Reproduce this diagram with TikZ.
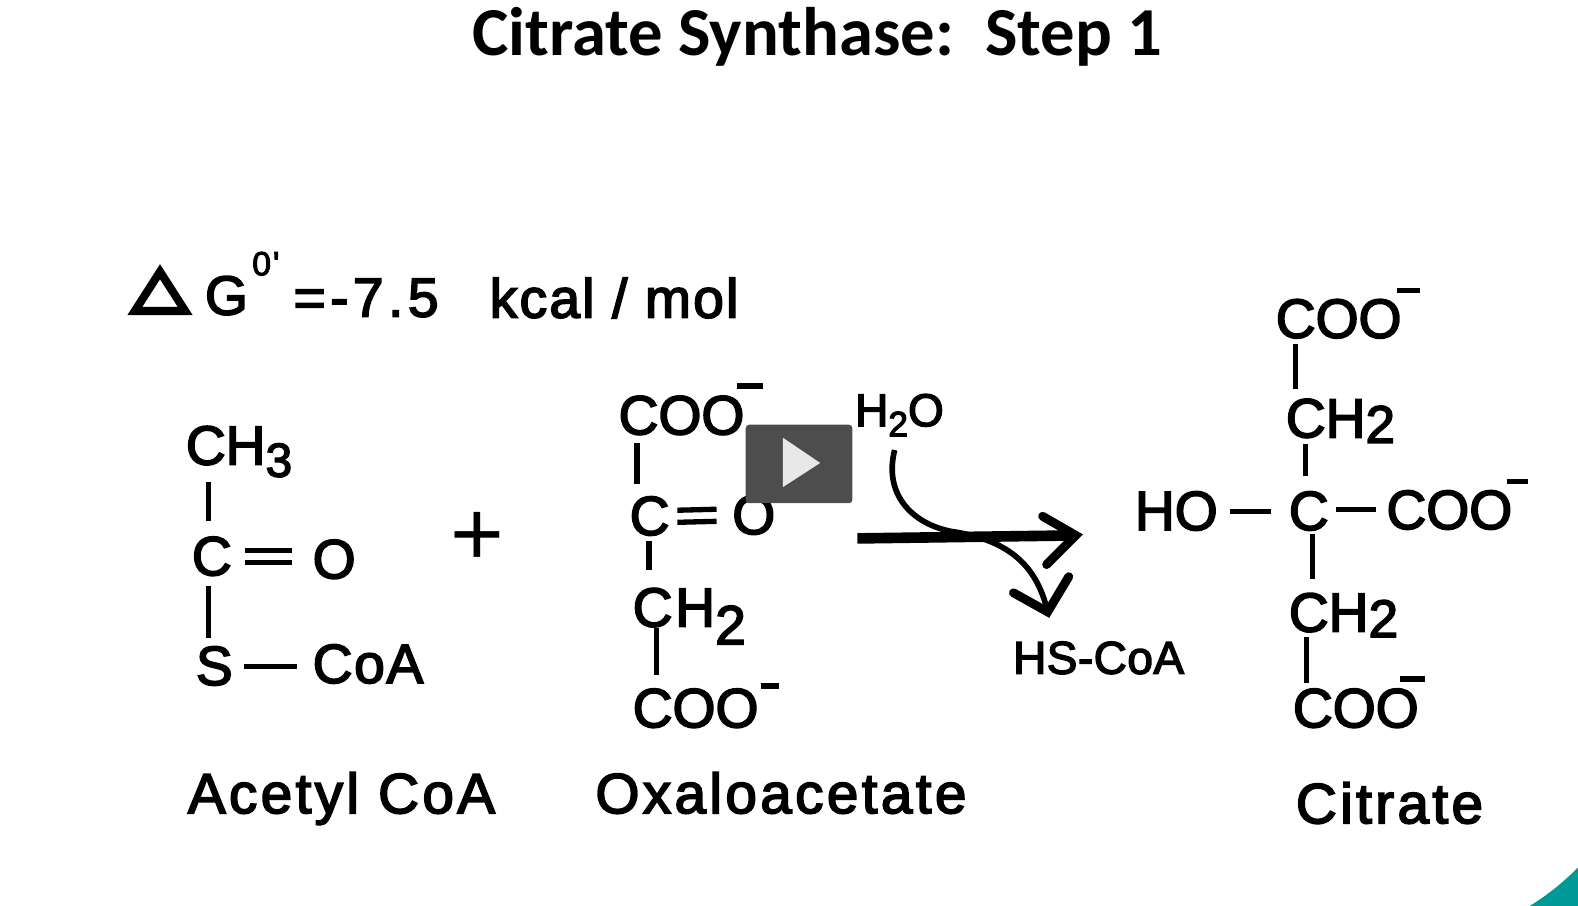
\documentclass[tikz,border=0pt]{standalone}
\usepackage{fontspec}
\usetikzlibrary{calc}
\setmainfont{Liberation Sans}
\newfontfamily\chemfont[FakeBold=3]{Liberation Sans}
\newfontfamily\titlefont{Carlito}[BoldFont=Carlito Bold]
\definecolor{teal1}{HTML}{009A96}
\definecolor{playgray}{HTML}{4D4D4D}
\definecolor{playlight}{HTML}{E8E8E8}
\newcommand{\lowtwo}[1]{\raisebox{-.22em}{\fontsize{13.5}{14}\selectfont #1}}
\newcommand{\lowbig}[1]{\raisebox{-.1em}{\fontsize{15}{16}\selectfont #1}}

\begin{document}
\begin{tikzpicture}[x=0.01cm,y=-0.01cm]
    \tikzset { atom/.style = { anchor=west,inner sep=0pt,text height=10.6pt,text depth=0pt,
        font=\chemfont\fontsize{15.6}{18}\selectfont } }
    \tikzset { small/.style = { atom,text height=8.8pt,font=\chemfont\fontsize{13}{15}\selectfont } }
    \tikzset { caption/.style = { atom,text height=10.8pt,font=\chemfont\fontsize{16}{18}\selectfont\addfontfeature{LetterSpace=6} } }
    \tikzset { bond/.style = { line width=1.5pt,black } }
    \tikzset { charge/.style = { line width=1.5pt,black } }
    \tikzset { heavy/.style = { line width=3pt,black } }
    \tikzset { curved/.style = { line width=1.6pt,black } }

    \useasboundingbox (0,0) rectangle (1568,900.2);

    \node[inner sep=0pt,font=\titlefont\bfseries\fontsize{19.4}{21}\selectfont] (title) at (812,37) {Citrate Synthase:\ \ Step 1};

    % free energy line
    \draw[line width=2.3pt,line join=miter] (159,270) -- (184,309) -- (134,309) -- cycle;
    \node[atom] (dgG) at (203,294) {G};
    \node[small,text height=6pt,font=\chemfont\fontsize{9.5}{11}\selectfont\addfontfeature{LetterSpace=6}] (dgSup) at (250,263) {0'};
    \node[atom,font=\chemfont\fontsize{15.6}{18}\selectfont\addfontfeature{LetterSpace=8}] (dgVal) at (291,296) {=-7.5};
    \node[atom,font=\chemfont\fontsize{15.6}{18}\selectfont\addfontfeature{LetterSpace=4}] (dgUnit) at (486,297) {kcal / mol};

    % acetyl coa
    \node[atom] (acCH) at (184,443) {CH\lowtwo{3}};
    \node[atom] (acC) at (190,553) {C};
    \node[atom] (acO) at (310,556) {O};
    \node[atom] (acS) at (194,662) {S};
    \node[atom,font=\chemfont\fontsize{15.6}{18}\selectfont\addfontfeature{LetterSpace=3}] (acCoA) at (310,660) {CoA};
    \node[inner sep=0pt,font=\fontsize{26}{28}\selectfont] (plus) at (474,536) {+};
    \node[caption] (acName) at (186,789) {Acetyl CoA};

    \draw[bond] ($(acCH.south west)+(23,17)$) -- ($(acC.north west)+(17,-16)$);
    \draw[bond] ($(acC.south west)+(17,10)$) -- ($(acS.north west)+(13,-9)$);
    \draw[bond] ($(acC.east)+(12,-6)$) -- ($(acO.west)+(-20,-9)$);
    \draw[bond] ($(acC.east)+(12,6)$) -- ($(acO.west)+(-20,3)$);
    \draw[bond] ($(acS.east)+(10,0)$) -- ($(acCoA.west)+(-15,2)$);

    % oxaloacetate
    \node[atom] (oxTop) at (614,413) {COO};
    \node[atom] (oxC) at (625,513) {C};
    \node[atom] (oxO) at (727,512) {O};
    \node[atom,font=\chemfont\fontsize{15.6}{18}\selectfont\addfontfeature{LetterSpace=5}] (oxCH) at (628,604) {CH\raisebox{-.32em}{2}};
    \node[atom] (oxBot) at (628,704) {COO};
    \node[caption] (oxName) at (591,789) {Oxaloacetate};

    \draw[charge] ($(oxTop.north east)+(-8,-10)$) -- ($(oxTop.north east)+(18,-10)$);
    \draw[charge] ($(oxBot.north east)+(2,-3)$) -- ($(oxBot.north east)+(20,-3)$);
    \draw[bond] ($(oxTop.south west)+(19,8)$) -- ($(oxC.north west)+(8,-13)$);
    \draw[bond] ($(oxC.south west)+(20,5)$) -- ($(oxCH.north west)+(17,-18)$);
    \draw[bond] ($(oxCH.south west)+(24,1)$) -- ($(oxBot.north west)+(24,-14)$);
    \draw[bond] ($(oxC.east)+(7,-6)$) -- ($(oxO.west)+(-15,-6)$);
    \draw[bond] ($(oxC.east)+(7,6)$) -- ($(oxO.west)+(-15,6)$);

    % reaction arrow
    \node[small] (water) at (849,408) {H\lowtwo{\fontsize{10}{12}\selectfont 2}O};
    \node[small,font=\chemfont\fontsize{13}{15}\selectfont\addfontfeature{LetterSpace=1}] (coash) at (1006,654) {HS-CoA};
    \coordinate (arrowA) at (852,535);
    \coordinate (arrowB) at (1069,532);
    \coordinate (bendEnd) at (1041,608);
    \draw[heavy] (arrowA) -- (arrowB);
    \draw[line width=2.5pt,line cap=round] (1036,513) -- (arrowB) -- (1040,561);
    \draw[curved] ($(water.south west)+(40,23)$) .. controls (878,490) and (905,520) .. (945,528) .. controls (1000,536) and (1030,560) .. (bendEnd);
    \draw[line width=2.5pt,line cap=round] (1007,589) -- (bendEnd) -- (1062,573);

    % citrate
    \node[atom] (ciTop) at (1267,317) {COO};
    \node[atom] (ciCHa) at (1277,416) {CH\lowbig{2}};
    \node[atom] (ciHO) at (1127,508) {HO};
    \node[atom] (ciC) at (1280,508) {C};
    \node[atom] (ciCOO) at (1377,507) {COO};
    \node[atom] (ciCHb) at (1280,609) {CH\lowbig{2}};
    \node[atom] (ciBot) at (1284,704) {COO};
    \node[caption] (ciName) at (1287,799) {Citrate};

    \draw[charge] ($(ciTop.north east)+(-5,-9)$) -- ($(ciTop.north east)+(18,-9)$);
    \draw[charge] ($(ciCOO.north east)+(-6,-9)$) -- ($(ciCOO.north east)+(15,-9)$);
    \draw[charge] ($(ciBot.north east)+(-19,-10)$) -- ($(ciBot.north east)+(6,-10)$);
    \draw[bond] ($(ciTop.south west)+(20,5)$) -- ($(ciCHa.north west)+(10,-10)$);
    \draw[bond] ($(ciCHa.south west)+(20,6)$) -- ($(ciC.north west)+(17,-16)$);
    \draw[bond] ($(ciC.south west)+(24,3)$) -- ($(ciCHb.north west)+(24,-14)$);
    \draw[bond] ($(ciCHb.south west)+(18,5)$) -- ($(ciBot.north west)+(14,-6)$);
    \draw[bond] ($(ciHO.east)+(12,0)$) -- ($(ciC.west)+(-17,0)$);
    \draw[bond] ($(ciC.east)+(7,-2)$) -- ($(ciCOO.west)+(-10,-1)$);

    % play button
    \node[fill=playgray,rounded corners=1pt,minimum width=1.06cm,minimum height=0.78cm,inner sep=0pt] (playBox) at (794,461) {};
    \fill[playlight] (778,435) -- (815,460) -- (778,484) -- cycle;

    % corner
    \fill[teal1] (1520,900.2) .. controls (1540,888) and (1555,875) .. (1568,862) -- (1568,900.2) -- cycle;
\end{tikzpicture}
\end{document}
